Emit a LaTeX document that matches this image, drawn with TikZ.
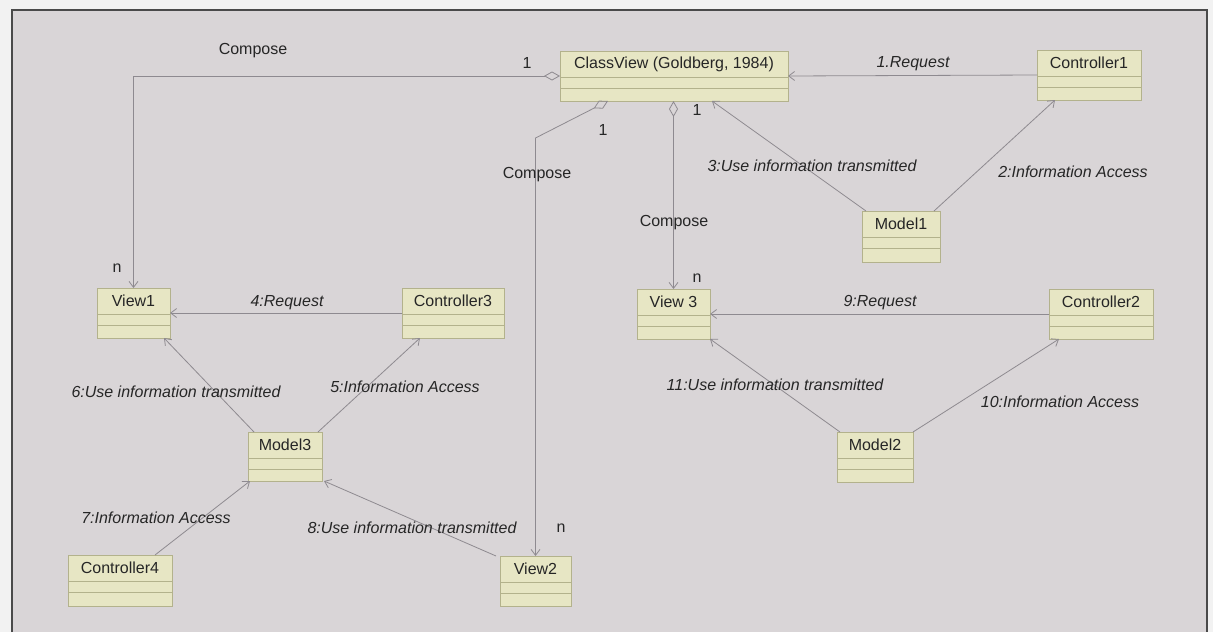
\documentclass[tikz,border=0pt]{standalone}
\usepackage{fontspec}
\setmainfont{Liberation Sans}
\usetikzlibrary{arrows.meta,calc}
\definecolor{bgc}{HTML}{D9D5D7}
\definecolor{outc}{HTML}{F2F2F2}
\definecolor{framec}{HTML}{4A4A4A}
\definecolor{boxfill}{HTML}{E7E6C4}
\definecolor{boxdraw}{HTML}{B3B28C}
\definecolor{linec}{HTML}{8E8A90}
\definecolor{txtc}{HTML}{262626}
\newcommand\classbox[6]{%
  \node[cls, minimum width=#4pt, minimum height=#5pt, anchor=north west] (#1) at (#2,#3) {};
  \node[clstitle] (#1-t) at ($(#1.north)+(0,13)$) {#6};
  \draw[clsline] ($(#1.north west)+(0,26)$) -- ($(#1.north east)+(0,26)$);
  \draw[clsline] ($(#1.north west)+(0,37)$) -- ($(#1.north east)+(0,37)$);
}
\begin{document}
\begin{tikzpicture}[x=1pt,y=-1pt,
  cls/.style={draw=boxdraw, fill=boxfill, line width=0.9pt, inner sep=0pt, outer sep=0pt},
  clsline/.style={draw=boxdraw, line width=0.8pt},
  clstitle/.style={text=txtc, font=\fontsize{16}{19}\selectfont, inner sep=0pt},
  lab/.style={text=txtc, font=\fontsize{16}{19}\selectfont\itshape, inner sep=1pt},
  plain/.style={text=txtc, font=\fontsize{16}{19}\selectfont, inner sep=1pt},
  assoc/.style={draw=linec, line width=0.8pt},
  >={Straight Barb[length=6pt,width=9pt]}
]
\useasboundingbox (0,0) rectangle (1213,632);
\fill[outc] (0,0) rectangle (1213,632);
\fill[bgc] (12,10) rectangle (1207,632);
\draw[framec, line width=1.6pt] (12,632) -- (12,10) -- (1207,10) -- (1207,632);

% classes
\classbox{cv}{560}{51}{228}{50}{ClassView (Goldberg, 1984)}
\classbox{c1}{1037}{50}{104}{50}{Controller1}
\classbox{m1}{862}{211}{78}{51}{Model1}
\classbox{v1}{97}{288}{73}{50}{View1}
\classbox{c3}{402}{288}{102}{50}{Controller3}
\classbox{m3}{248}{432}{74}{49}{Model3}
\classbox{c4}{68}{555}{104}{51}{Controller4}
\classbox{v2}{500}{556}{71}{50}{View2}
\classbox{v3}{637}{289}{73}{50}{View 3}
\classbox{c2}{1049}{289}{104}{50}{Controller2}
\classbox{m2}{837}{432}{76}{50}{Model2}

% composition links
\draw[assoc, {Diamond[open,length=16pt,width=9pt]}->] (cv.west) -- (v1.north |- cv.west) -- (v1.north);
\draw[assoc, {Diamond[open,length=16pt,width=9pt]}->] ($(cv.south west)+(48,0)$) -- (v2.north |- 0,138) -- (v2.north);
\draw[assoc, {Diamond[open,length=16pt,width=9pt]}->] (v3.north |- cv.south) -- (v3.north);

% messages
\draw[assoc, ->] (c1.west) -- (cv.east);
\draw[assoc, ->] ($(m1.north west)+(4,0)$) -- ($(cv.south east)+(-76,0)$);
\draw[assoc, ->] ($(m1.north east)+(-6,0)$) -- ($(c1.south west)+(18,0)$);
\draw[assoc, ->] (c3.west) -- (v1.east);
\draw[assoc, ->] ($(m3.north west)+(6,0)$) -- ($(v1.south east)+(-6,0)$);
\draw[assoc, ->] ($(m3.north east)+(-4,0)$) -- ($(c3.south west)+(18,0)$);
\draw[assoc, ->] ($(c4.north east)+(-17,0)$) -- ($(m3.south west)+(2,0)$);
\draw[assoc, ->] ($(v2.north west)+(-4,0)$) -- ($(m3.south east)+(2,0)$);
\draw[assoc, ->] (c2.west) -- (v3.east);
\draw[assoc, ->] ($(m2.north west)+(3,0)$) -- (v3.south east);
\draw[assoc, ->] (m2.north east) -- ($(c2.south west)+(10,0)$);

% labels
\node[plain] (l-comp1) at (253,51) {Compose};
\node[plain] (l-comp2) at (537,175) {Compose};
\node[plain] (l-comp3) at (674,223) {Compose};
\node[plain] (l-one1) at (527,63) {1};
\node[plain] (l-one2) at (603,130) {1};
\node[plain] (l-one3) at (697,110) {1};
\node[plain] (l-n1) at (117,268) {n};
\node[plain] (l-n2) at (561,528) {n};
\node[plain] (l-n3) at (697,278) {n};
\node[lab] (l1) at (913,64) {1.Request};
\node[lab] (l2) at (1073,172) {2:Information Access};
\node[lab] (l3) at (812,166) {3:Use information transmitted};
\node[lab] (l4) at (287,303) {4:Request};
\node[lab] (l5) at (405,387) {5:Information Access};
\node[lab] (l6) at (176,392) {6:Use information transmitted};
\node[lab] (l7) at (156,518) {7:Information Access};
\node[lab] (l8) at (412,528) {8:Use information transmitted};
\node[lab] (l9) at (880,303) {9:Request};
\node[lab] (l10) at (1060,402) {10:Information Access};
\node[lab] (l11) at (775,385) {11:Use information transmitted};
\end{tikzpicture}
\end{document}
